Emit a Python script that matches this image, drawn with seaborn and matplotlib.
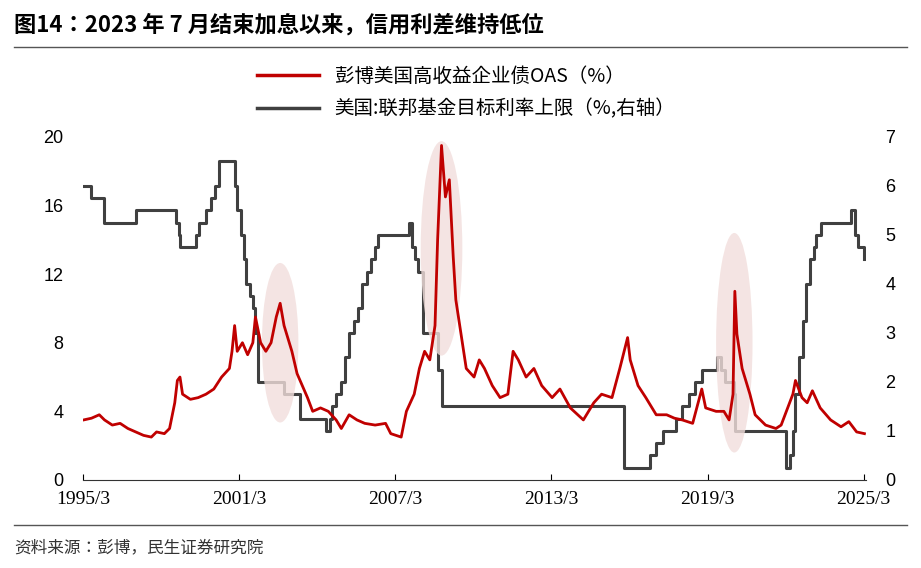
import numpy as np
import pandas as pd
import matplotlib
matplotlib.use("Agg")
import matplotlib.pyplot as plt
import matplotlib.font_manager as fm
import seaborn as sns
from matplotlib.patches import Ellipse
from matplotlib.lines import Line2D

cjk = None
for f in fm.findSystemFonts():
    if "CJK" in f and ("Regular" in f or "SC" in f):
        try:
            fm.fontManager.addfont(f)
            name = fm.FontProperties(fname=f).get_name()
            if cjk is None or "SC" in name:
                cjk = name
        except Exception:
            pass
plt.rcParams["font.family"] = [cjk or "Noto Sans CJK SC", "DejaVu Sans"]

oas_t = [1995.2,1995.5,1995.8,1996.0,1996.3,1996.6,1996.9,1997.2,1997.5,1997.8,1998.0,1998.3,1998.5,1998.7,1998.8,1998.9,1999.0,1999.3,1999.6,1999.9,2000.2,2000.5,2000.8,2000.9,2001.0,2001.1,2001.3,2001.5,2001.7,2001.8,2002.0,2002.2,2002.4,2002.6,2002.75,2002.9,2003.0,2003.2,2003.4,2003.6,2003.8,2004.0,2004.3,2004.6,2004.9,2005.1,2005.4,2005.7,2006.0,2006.4,2006.8,2007.0,2007.4,2007.6,2007.9,2008.1,2008.3,2008.5,2008.7,2008.8,2008.95,2009.1,2009.25,2009.4,2009.5,2009.7,2009.9,2010.2,2010.4,2010.6,2010.9,2011.2,2011.5,2011.7,2011.9,2012.2,2012.5,2012.8,2013.2,2013.5,2013.9,2014.4,2014.8,2015.1,2015.5,2015.8,2016.1,2016.2,2016.5,2016.8,2017.2,2017.6,2017.9,2018.2,2018.6,2018.95,2019.1,2019.5,2019.8,2020.0,2020.15,2020.22,2020.3,2020.5,2020.8,2021.0,2021.4,2021.8,2022.0,2022.45,2022.55,2022.8,2023.0,2023.2,2023.5,2023.9,2024.3,2024.6,2024.9,2025.2]
oas_v = [3.5,3.6,3.8,3.5,3.2,3.3,3.0,2.8,2.6,2.5,2.8,2.7,3.0,4.5,5.8,6.0,5.0,4.7,4.8,5.0,5.3,6.0,6.5,7.5,9.0,7.5,8.0,7.3,8.0,9.5,8.0,7.5,8.0,9.5,10.3,9.0,8.5,7.5,6.2,5.5,4.8,4.0,4.2,4.0,3.5,3.0,3.8,3.5,3.3,3.2,3.3,2.7,2.5,4.0,5.0,6.5,7.5,7.0,9.0,14.0,19.5,16.5,17.5,13.0,10.5,8.5,6.5,6.0,7.0,6.5,5.5,4.8,5.0,7.5,7.0,6.0,6.5,5.5,4.8,5.3,4.2,3.5,4.5,5.0,4.8,6.5,8.3,7.0,5.5,4.8,3.8,3.8,3.6,3.5,3.3,5.3,4.2,4.0,4.0,3.5,5.0,11.0,8.5,6.5,5.0,3.8,3.2,3.0,3.2,5.0,5.8,4.8,4.5,5.2,4.2,3.5,3.1,3.4,2.8,2.7]

fed_t = [1995.17,1995.5,1996.0,1997.2,1998.75,1998.85,1998.9,1999.5,1999.65,1999.9,2000.1,2000.25,2000.4,2001.0,2001.1,2001.25,2001.35,2001.45,2001.6,2001.7,2001.8,2001.9,2002.9,2003.5,2004.5,2004.65,2004.75,2004.9,2005.1,2005.25,2005.4,2005.6,2005.75,2005.9,2006.1,2006.25,2006.4,2006.5,2007.7,2007.8,2007.95,2008.05,2008.25,2008.8,2008.95,2015.95,2016.95,2017.2,2017.45,2017.95,2018.2,2018.45,2018.7,2018.95,2019.55,2019.7,2019.85,2020.17,2020.22,2022.2,2022.35,2022.45,2022.55,2022.7,2022.85,2022.95,2023.1,2023.25,2023.35,2023.55,2024.7,2024.85,2024.95,2025.2]
fed_v = [6.0,5.75,5.25,5.5,5.25,5.0,4.75,5.0,5.25,5.5,5.75,6.0,6.5,6.0,5.5,5.0,4.5,4.0,3.75,3.5,3.0,2.0,1.75,1.25,1.0,1.25,1.5,1.75,2.0,2.5,3.0,3.25,3.5,4.0,4.25,4.5,4.75,5.0,5.25,4.75,4.5,4.25,3.0,2.25,1.5,0.25,0.5,0.75,1.0,1.25,1.5,1.75,2.0,2.25,2.5,2.25,2.0,1.75,1.0,0.25,0.5,1.0,1.75,2.5,3.25,4.0,4.5,4.75,5.0,5.25,5.5,5.0,4.75,4.5]

xt = [1995.17,2001.17,2007.17,2013.17,2019.17,2025.17]
xt_labels = ["1995/3","2001/3","2007/3","2013/3","2019/3","2025/3"]

df_oas = pd.DataFrame({"t": oas_t, "v": oas_v})
df_fed = pd.DataFrame({"t": fed_t, "v": fed_v})

fig = plt.figure(figsize=(9.21, 5.68), dpi=100)
ax = fig.add_axes([0.090, 0.155, 0.850, 0.604])
ax2 = ax.twinx()

red = "#C00000"
gray = "#404040"
for cx, cy, w, h in [(2002.75, 8.0, 1.4, 9.3), (2008.95, 13.5, 1.6, 12.5), (2020.2, 8.0, 1.4, 12.8)]:
    ax.add_patch(Ellipse((cx, cy), w, h, color="#F2DEDC", alpha=0.8, zorder=0, lw=0))

sns.lineplot(data=df_oas, x="t", y="v", ax=ax, color=red, lw=2, zorder=3)
ax2.step(df_fed["t"], df_fed["v"], where="post", color=gray, lw=2.2)
ax.set_zorder(ax2.get_zorder() + 1)
ax.patch.set_visible(False)

ax.set_xlim(1995.17, 2025.25)
ax.set_ylim(0, 20)
ax2.set_ylim(0, 7)
ax.set_yticks(range(0, 21, 4))
ax2.set_yticks(range(0, 8))
ax.set_xticks(xt)
ax.set_xticklabels(xt_labels, fontfamily="Liberation Serif", fontsize=14)
ax.set_xlabel(""); ax.set_ylabel("")
for a in (ax, ax2):
    for s in ["top", "left", "right"]:
        a.spines[s].set_visible(False)
    a.tick_params(axis="y", length=0, labelsize=13, pad=14)
ax2.spines["bottom"].set_visible(False)
ax.spines["bottom"].set_color("#333333")
ax.tick_params(axis="x", direction="in", length=4, pad=8)
for lbl in ax.get_yticklabels() + ax2.get_yticklabels():
    lbl.set_fontfamily("Liberation Sans")

handles = [Line2D([], [], color=red, lw=2.5), Line2D([], [], color=gray, lw=2.5)]
fig.legend(handles, ["彭博美国高收益企业债OAS（%）", "美国:联邦基金目标利率上限（%,右轴）"],
           loc="upper left", bbox_to_anchor=(0.26, 0.915), frameon=False, fontsize=14,
           handlelength=3.2, labelspacing=0.6)

fig.text(0.015, 0.955, "图14：2023 年 7 月结束加息以来，信用利差维持低位", fontsize=16, fontweight="bold", va="center")
fig.add_artist(Line2D([0.015, 0.985], [0.918, 0.918], color="#555555", lw=1))
fig.add_artist(Line2D([0.015, 0.985], [0.075, 0.075], color="#555555", lw=1))
fig.text(0.015, 0.035, "资料来源：彭博，民生证券研究院", fontsize=12, va="center", color="#333333")

fig.savefig("out.png", dpi=100)
